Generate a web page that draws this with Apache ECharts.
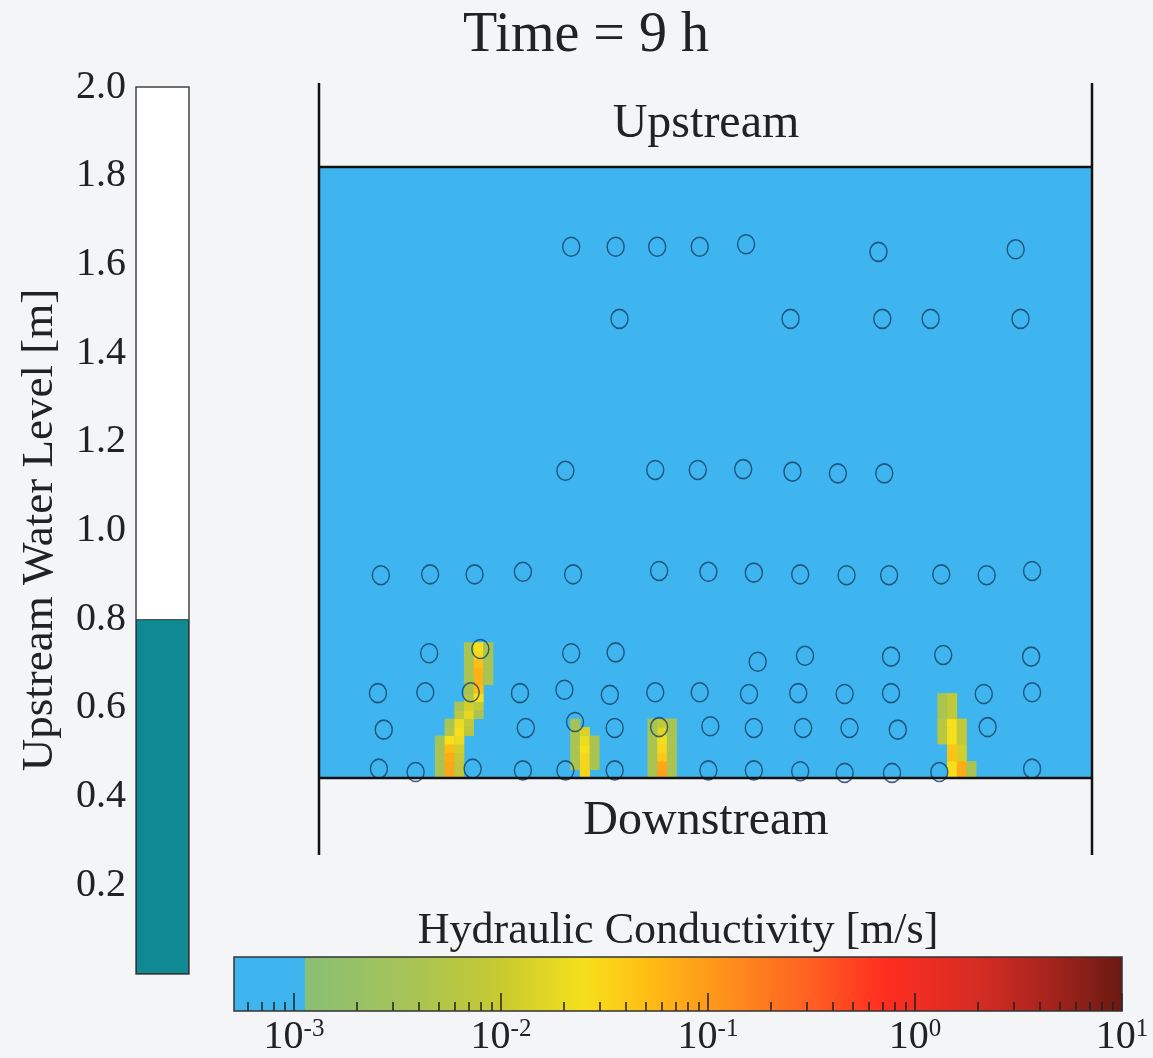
<!DOCTYPE html>
<html>
<head>
<meta charset="utf-8">
<title>Time = 9 h</title>
<script src="https://cdn.jsdelivr.net/npm/echarts@6/dist/echarts.min.js"></script>
<style>
  html, body { margin: 0; padding: 0; background: #f4f5f7; }
  #chart { width: 1153px; height: 1058px; }
</style>
</head>
<body>
<div id="chart"></div>
<script>
// upstream water level gauge [m]
const waterLevel = [0.8]

// high-conductivity cells: [column, row, log10 K (m/s)]
const plumeA = [
  [12, 0, -2.4], [13, 0, -1.1], [14, 0, -2.1],
  [12, 1, -2.4], [13, 1, -1.1], [14, 1, -2.1],
  [12, 2, -2.4], [13, 2, -1.15], [14, 2, -2.0],
  [12, 3, -2.4], [13, 3, -1.3], [14, 3, -1.9],
  [12, 4, -2.5], [13, 4, -1.6], [14, 4, -1.7],
  [13, 5, -2.3], [14, 5, -1.6], [15, 5, -2.2],
  [13, 6, -2.4], [14, 6, -1.7], [15, 6, -2.1],
  [14, 7, -2.2], [15, 7, -1.75], [16, 7, -2.4],
  [14, 8, -2.4], [15, 8, -1.9], [16, 8, -2.1],
  [15, 9, -2.3], [16, 9, -1.6],
  [15, 10, -2.4], [16, 10, -1.3],
  [15, 11, -2.4], [16, 11, -1.2], [17, 11, -2.4],
  [15, 12, -2.4], [16, 12, -1.2], [17, 12, -2.4],
  [15, 13, -2.4], [16, 13, -1.3], [17, 13, -2.4],
  [15, 14, -2.4], [16, 14, -1.55], [17, 14, -2.4],
  [15, 15, -2.4], [16, 15, -1.6], [17, 15, -2.4]
]
const plumeB = [
  [27, 0, -1.5],
  [26, 1, -2.4], [27, 1, -1.5], [28, 1, -2.4],
  [26, 2, -2.4], [27, 2, -1.5], [28, 2, -2.4],
  [26, 3, -2.4], [27, 3, -1.6], [28, 3, -2.4],
  [26, 4, -2.4], [27, 4, -1.7], [28, 4, -2.4],
  [26, 5, -2.4], [27, 5, -1.85],
  [26, 6, -2.5]
]
const plumeC = [
  [34, 0, -2.4], [35, 0, -1.05], [36, 0, -2.4],
  [34, 1, -2.4], [35, 1, -1.1], [36, 1, -2.4],
  [34, 2, -2.4], [35, 2, -1.4], [36, 2, -2.4],
  [34, 3, -2.4], [35, 3, -1.5], [36, 3, -2.4],
  [34, 4, -2.4], [35, 4, -1.65], [36, 4, -2.4],
  [34, 5, -2.4], [35, 5, -1.8], [36, 5, -2.4],
  [34, 6, -2.4], [35, 6, -2.1], [36, 6, -2.4]
]
const plumeD = [
  [65, 0, -1.6], [66, 0, -1.15], [67, 0, -2.4],
  [65, 1, -1.6], [66, 1, -1.15], [67, 1, -2.4],
  [65, 2, -1.35], [66, 2, -1.9],
  [65, 3, -1.35], [66, 3, -1.9],
  [64, 4, -2.2], [65, 4, -1.6], [66, 4, -2.1],
  [64, 5, -2.2], [65, 5, -1.6], [66, 5, -2.1],
  [64, 6, -2.2], [65, 6, -1.6], [66, 6, -2.1],
  [64, 7, -2.4], [65, 7, -2.1],
  [64, 8, -2.4], [65, 8, -2.1],
  [64, 9, -2.4], [65, 9, -2.1]
]

// sensor positions [column, row]
const sensors = [
  [26.1, 62.6], [30.7, 62.6], [35.0, 62.6], [39.4, 62.6], [44.2, 62.9], [57.9, 62.0], [72.1, 62.3],
  [31.1, 54.1], [48.8, 54.1], [58.3, 54.1], [63.3, 54.1], [72.6, 54.1],
  [25.5, 36.2], [34.8, 36.3], [39.2, 36.3], [43.9, 36.4], [49.0, 36.1], [53.7, 35.9], [58.5, 35.9],
  [6.4, 23.9], [11.5, 24.0], [16.1, 24.0], [21.1, 24.3], [26.3, 24.0], [35.2, 24.4], [40.3, 24.3],
  [45.0, 24.2], [49.8, 24.0], [54.6, 23.9], [59.0, 23.9], [64.4, 24.0], [69.1, 23.9], [73.8, 24.4],
  [11.4, 14.7], [16.7, 15.2], [26.1, 14.7], [30.7, 14.8], [45.4, 13.7], [50.3, 14.4], [59.2, 14.3],
  [64.6, 14.5], [73.7, 14.3],
  [6.1, 10.0], [11.0, 10.1], [15.7, 10.1], [20.8, 10.0], [25.4, 10.4], [30.1, 9.8], [34.8, 10.1],
  [39.4, 10.1], [44.5, 9.9], [49.6, 10.0], [54.4, 9.9], [59.2, 10.0], [68.8, 9.9], [73.8, 10.1],
  [6.7, 5.7], [21.4, 5.9], [26.5, 6.6], [30.6, 5.9], [35.2, 6.0], [40.5, 6.1], [45.0, 5.9],
  [50.1, 5.9], [54.9, 5.9], [59.9, 5.7], [69.2, 6.0],
  [6.2, 1.1], [10.0, 0.7], [15.9, 1.1], [21.1, 0.9], [25.5, 0.9], [30.6, 0.9], [40.3, 0.9],
  [45.0, 0.9], [49.8, 0.8], [54.4, 0.6], [59.3, 0.6], [64.2, 0.7], [73.8, 1.1]
]

// colour bar
const cbRange = [0.000513, 10]
const cbBlueLimit = 0.00113
const cbMajorTicks = [0.001, 0.01, 0.1, 1, 10]
const cbMinorTicks = [
  0.0006, 0.0007, 0.0008, 0.0009,
  0.002, 0.003, 0.004, 0.005, 0.006, 0.007, 0.008, 0.009,
  0.02, 0.03, 0.04, 0.05, 0.06, 0.07, 0.08, 0.09,
  0.2, 0.3, 0.4, 0.5, 0.6, 0.7, 0.8, 0.9,
  2, 3, 4, 5, 6, 7, 8, 9
]
const paletteLogK = [-2.95, -2.5, -2.0, -1.6, -1.3, -1.0, -0.5, -0.15, 0.3, 0.65, 1.0]
const paletteColors = ['#8abf76', '#a3c35a', '#c8ca30', '#f6e01c', '#ffbe14', '#ff9a1a',
  '#ff5f22', '#ff2e20', '#d62c24', '#a6241c', '#6a1a12']

const BLUE = '#3fb5f0'
const SERIF = '"Liberation Serif", "Times New Roman", serif'
const TEXT = '#222'

function colorFor(logK) {
  if (logK <= paletteLogK[0]) return paletteColors[0]
  for (let i = 0; i < paletteLogK.length - 1; i++) {
    if (logK <= paletteLogK[i + 1]) {
      const f = (logK - paletteLogK[i]) / (paletteLogK[i + 1] - paletteLogK[i])
      return echarts.color.lerp(f, [paletteColors[i], paletteColors[i + 1]])
    }
  }
  return paletteColors[paletteColors.length - 1]
}

const span = paletteLogK[paletteLogK.length - 1] - paletteLogK[0]
const cbGradient = new echarts.graphic.LinearGradient(0, 0, 1, 0,
  paletteLogK.map((v, i) => ({ offset: (v - paletteLogK[0]) / span, color: paletteColors[i] })))

const cells = plumeA.concat(plumeB, plumeC, plumeD)

const chart = echarts.init(document.getElementById('chart'))
chart.setOption({
  backgroundColor: '#f4f5f7',
  animation: false,
  grid: [
    { left: 136, top: 87, width: 53, height: 887, show: true, backgroundColor: '#fff', borderColor: '#444', borderWidth: 1.5 },
    { left: 319, top: 167, width: 773, height: 611, show: true, backgroundColor: BLUE, borderWidth: 0 },
    { left: 234, top: 957, width: 888, height: 54, show: false }
  ],
  xAxis: [
    { type: 'category', gridIndex: 0, data: ['level'], show: false },
    { type: 'value', gridIndex: 1, min: 0, max: 80, show: false },
    {
      type: 'log', gridIndex: 2, logBase: 10, min: cbRange[0], max: cbRange[1], z: 5, position: 'bottom',
      axisLine: { show: false }, splitLine: { show: false },
      axisTick: { inside: true, length: 18, customValues: cbMajorTicks, lineStyle: { color: '#222', width: 1.5 } },
      axisLabel: {
        customValues: cbMajorTicks, margin: 6,
        formatter: v => '{b|10}{s|' + Math.round(Math.log10(v)) + '}',
        rich: {
          b: { fontFamily: SERIF, fontSize: 40, color: TEXT },
          s: { fontFamily: SERIF, fontSize: 25, color: TEXT, verticalAlign: 'top', padding: [0, 0, 14, 0] }
        }
      }
    },
    {
      type: 'log', gridIndex: 2, logBase: 10, min: cbRange[0], max: cbRange[1], z: 5, position: 'bottom',
      axisLine: { show: false }, splitLine: { show: false }, axisLabel: { show: false },
      axisTick: { inside: true, length: 9, customValues: cbMinorTicks, lineStyle: { color: '#222', width: 1.5 } }
    }
  ],
  yAxis: [
    {
      type: 'value', gridIndex: 0, min: 0, max: 2, interval: 0.2, z: 5,
      axisLine: { show: false }, splitLine: { show: false },
      axisTick: { inside: true, length: 10, lineStyle: { color: '#333', width: 1.5 } },
      axisLabel: {
        margin: 10, fontFamily: SERIF, fontSize: 40, color: TEXT,
        formatter: v => (v === 0 ? '' : v.toFixed(1))
      }
    },
    { type: 'value', gridIndex: 1, min: 0, max: 72, show: false },
    { type: 'value', gridIndex: 2, min: 0, max: 1, show: false }
  ],
  series: [
    {
      type: 'bar', xAxisIndex: 0, yAxisIndex: 0, data: waterLevel, barWidth: '100%',
      itemStyle: { color: '#0f8a93', borderColor: '#2b3a3c', borderWidth: 1 }, silent: true
    },
    {
      type: 'custom', xAxisIndex: 1, yAxisIndex: 1, data: cells, silent: true,
      encode: { x: 0, y: 1 },
      renderItem: (params, api) => {
        const c = api.value(0), r = api.value(1)
        const p0 = api.coord([c, r + 1])
        const p1 = api.coord([c + 1, r])
        return {
          type: 'rect',
          shape: { x: p0[0], y: p0[1], width: p1[0] - p0[0] + 0.4, height: p1[1] - p0[1] + 0.4 },
          style: { fill: colorFor(api.value(2)) }
        }
      }
    },
    {
      type: 'scatter', xAxisIndex: 1, yAxisIndex: 1, data: sensors, clip: false, silent: true,
      symbol: 'circle', symbolSize: [17, 19], z: 4,
      itemStyle: { color: 'rgba(0,0,0,0)', borderColor: '#173f63', borderWidth: 1.5 }
    },
    {
      type: 'custom', xAxisIndex: 2, yAxisIndex: 2, silent: true,
      data: [[cbRange[0], cbBlueLimit, 0], [cbBlueLimit, cbRange[1], 1]],
      renderItem: (params, api) => {
        const p0 = api.coord([api.value(0), 1])
        const p1 = api.coord([api.value(1), 0])
        return {
          type: 'rect',
          shape: { x: p0[0], y: p0[1], width: p1[0] - p0[0], height: p1[1] - p0[1] },
          style: { fill: api.value(2) === 0 ? BLUE : cbGradient }
        }
      }
    }
  ],
  graphic: [
    { type: 'text', x: 586, y: 36, z: 100, style: { text: 'Time = 9 h', font: '56px ' + SERIF, fill: TEXT, align: 'center', verticalAlign: 'middle' } },
    { type: 'text', x: 706, y: 124, z: 100, style: { text: 'Upstream', font: '48px ' + SERIF, fill: TEXT, align: 'center', verticalAlign: 'middle' } },
    { type: 'text', x: 706, y: 821, z: 100, style: { text: 'Downstream', font: '48px ' + SERIF, fill: TEXT, align: 'center', verticalAlign: 'middle' } },
    { type: 'text', x: 678, y: 931, z: 100, style: { text: 'Hydraulic Conductivity [m/s]', font: '44px ' + SERIF, fill: TEXT, align: 'center', verticalAlign: 'middle' } },
    { type: 'text', x: 40, y: 530, rotation: Math.PI / 2, z: 100, style: { text: 'Upstream Water Level [m]', font: '45px ' + SERIF, fill: TEXT, align: 'center', verticalAlign: 'middle' } },
    { type: 'line', z: 100, shape: { x1: 319, y1: 83, x2: 319, y2: 855 }, style: { stroke: '#111', lineWidth: 2.5 } },
    { type: 'line', z: 100, shape: { x1: 1092, y1: 83, x2: 1092, y2: 855 }, style: { stroke: '#111', lineWidth: 2.5 } },
    { type: 'line', z: 100, shape: { x1: 319, y1: 167, x2: 1092, y2: 167 }, style: { stroke: '#111', lineWidth: 2.5 } },
    { type: 'line', z: 100, shape: { x1: 319, y1: 778, x2: 1092, y2: 778 }, style: { stroke: '#111', lineWidth: 2.5 } },
    { type: 'rect', z: 100, shape: { x: 234, y: 957, width: 888, height: 54 }, style: { fill: 'none', stroke: '#333', lineWidth: 1.5 } }
  ]
})
</script>
</body>
</html>
